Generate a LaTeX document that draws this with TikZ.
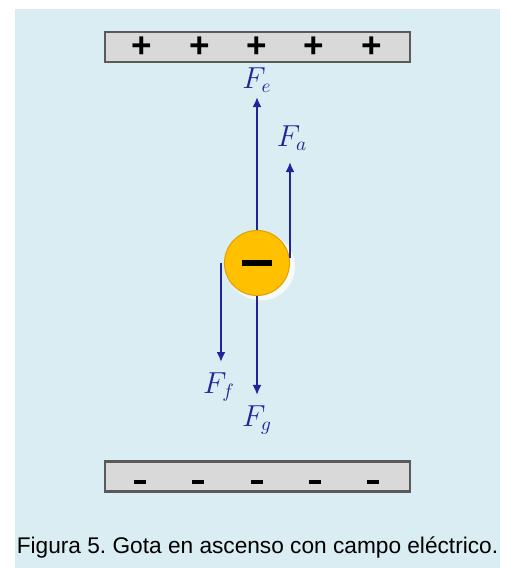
\documentclass[tikz,border=0pt]{standalone}
\usepackage{fontspec}
\setmainfont{Liberation Sans}
\usetikzlibrary{arrows.meta, positioning}
\definecolor{panelblue}{HTML}{DAEDF3}
\definecolor{plategray}{HTML}{D9D9D9}
\definecolor{plateedge}{HTML}{5A5A5A}
\definecolor{forceblue}{HTML}{23239A}
\definecolor{dropfill}{HTML}{FFC000}
\definecolor{dropedge}{HTML}{E0A200}

\begin{document}
\begin{tikzpicture}[
    plate/.style={
        rectangle,
        draw=plateedge,
        line width=1.3pt,
        fill=plategray,
        minimum width=6.1cm,
        minimum height=0.6cm,
        inner sep=0pt
    },
    plus/.style={
        font=\fontsize{20}{22}\selectfont\bfseries,
        inner sep=0pt
    },
    minus/.style={
        inner sep=0pt
    },
    drop/.style={
        circle,
        draw=dropedge,
        line width=.6pt,
        fill=dropfill,
        minimum size=1.3cm,
        inner sep=0pt
    },
    force/.style={
        -{Latex[length=2mm,width=1.8mm]},
        line width=1.3pt,
        draw=forceblue
    },
    flabel/.style={
        text=forceblue,
        font=\fontsize{16}{19}\selectfont,
        inner sep=1pt
    }
]

% ------------------------------------------------
% Background
% ------------------------------------------------
\useasboundingbox (0,0) rectangle (10.16,11.36);
\fill[white] (0,0) rectangle (10.16,11.36);
\fill[panelblue] (0.30,0) rectangle (10.00,11.18);

% ------------------------------------------------
% Plates
% ------------------------------------------------
\node[plate] (topplate) at (5.15,10.42) {};
\node[plate] (botplate) at (5.15,1.83) {};

\foreach \x in {2.84,4.00,5.14,6.28,7.44}{
  \node[plus] at (\x,10.42) {+};
}
\foreach \x in {2.80,3.96,5.14,6.30,7.46}{
  \node[minus] at (\x,1.72) {\rule{7pt}{2.3pt}};
}

% ------------------------------------------------
% Drop
% ------------------------------------------------
\fill[white, opacity=.75] (5.22,6.03) circle (0.68);
\node[drop] (drop) at (5.14,6.10) {\rule{17pt}{3.2pt}};

% ------------------------------------------------
% Forces
% ------------------------------------------------
\coordinate (tipe) at (5.14,9.42);
\coordinate (starta) at (5.80,6.20);
\coordinate (tipa) at (5.80,8.12);
\coordinate (startf) at (4.42,6.10);
\coordinate (tipf) at (4.42,4.12);
\coordinate (tipg) at (5.14,3.46);

\draw[force] (drop.north) -- (tipe);
\draw[force] (starta) -- (tipa);
\draw[force] (startf) -- (tipf);
\draw[force] (drop.south) -- (tipg);

\node[flabel] (fe) at (5.14,9.76) {$F_e$};
\node[flabel] (fa) at (5.84,8.60) {$F_a$};
\node[flabel] (ff) at (4.38,3.62) {$F_f$};
\node[flabel] (fg) at (5.14,2.96) {$F_g$};

% ------------------------------------------------
% Caption
% ------------------------------------------------
\node[font=\fontsize{12.9}{14}\selectfont] (caption) at (5.15,0.40)
  {Figura 5.\ Gota en ascenso con campo eléctrico.};

\end{tikzpicture}
\end{document}
